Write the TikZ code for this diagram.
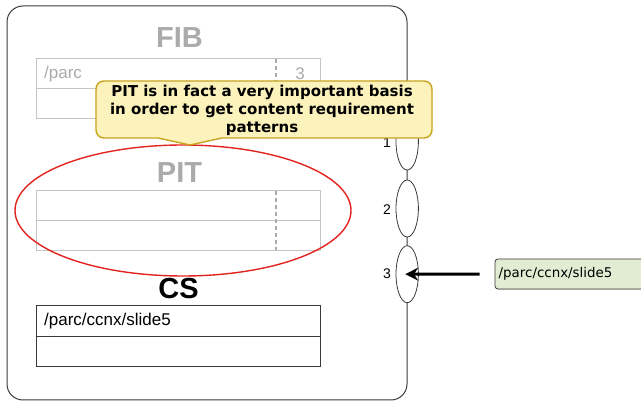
\documentclass[tikz,border=0pt]{standalone}
\usepackage{fontspec}
\setmainfont{Liberation Sans}
\newfontfamily\dejavu{DejaVu Sans}
\usetikzlibrary{shapes.geometric,arrows.meta,shadows}

\definecolor{frameline}{HTML}{3A3A3A}
\definecolor{fadeline}{HTML}{C4C4C4}
\definecolor{fadetext}{HTML}{ABABAB}
\definecolor{noteyellow}{HTML}{FCF3BC}
\definecolor{noteedge}{HTML}{C9A31C}
\definecolor{pktgreen}{HTML}{E0EDD2}
\definecolor{ringred}{HTML}{E3231E}

\tikzset{
  title/.style={inner sep=0pt, font=\fontsize{29}{33}\selectfont\bfseries},
  tablebox/.style={draw, line width=0.9pt, minimum width=284pt, inner sep=0pt},
  cell/.style={anchor=west, inner sep=0pt, font=\fontsize{17}{20}\selectfont},
  face/.style={ellipse, draw=frameline, fill=white, line width=0.8pt,
    minimum width=22.4pt, minimum height=57pt, inner sep=0pt},
  facelabel/.style={inner sep=0pt, font=\fontsize{14}{16}\selectfont},
  slot/.style={dashed, dash pattern=on 4pt off 3pt, line width=1.4pt, draw=fadetext},
}

\begin{document}
\begin{tikzpicture}[x=1pt, y=-1pt]
\useasboundingbox (0,0) rectangle (641,403);
\clip (0,0) rectangle (641,403);

% node frame
\draw[frameline, line width=1pt, rounded corners=16pt] (7,6) rectangle (407,400);

% FIB
\node[title, text=fadetext] (fibtitle) at (179.5,37.5) {FIB};
\node[tablebox, draw=fadeline, minimum height=60pt] (fib) at (178.8,88.3) {};
\draw[fadeline, line width=0.9pt] (fib.west) -- (fib.east);
\draw[slot] (276,59) -- (276,118);
\node[cell, text=fadetext] (fibname) at (44,74) {/parc};
\node[inner sep=0pt, text=fadetext, font=\fontsize{17}{20}\selectfont] (fibface) at (300,74) {3};

% PIT
\node[title, text=fadetext] (pittitle) at (179.5,172.7) {PIT};
\node[tablebox, draw=fadeline, minimum height=59.3pt] (pit) at (178.8,220.35) {};
\draw[fadeline, line width=0.9pt] (pit.west) -- (pit.east);
\draw[slot] (276,191) -- (276,250);

% CS
\node[title, text=black] (cstitle) at (178.5,289) {CS};
\node[tablebox, draw=frameline, minimum height=60.7pt] (cs) at (178,336.3) {};
\draw[frameline, line width=0.9pt] (cs.west) -- (cs.east);
\node[cell] (csname) at (44,321.5) {/parc/ccnx/slide5};

% highlight round the PIT
\node[ellipse, draw=ringred, line width=1.4pt, minimum width=336pt,
  minimum height=131pt, inner sep=0pt] (ring) at (183,210.5) {};

% faces
\node[face] (f1) at (407.2,141.5) {};
\node[face] (f2) at (407.2,208.5) {};
\node[face] (f3) at (407.2,274.2) {};
\node[facelabel] (l1) at (387,142.5) {1};
\node[facelabel] (l2) at (387,210) {2};
\node[facelabel] (l3) at (387,274) {3};

% incoming interest
\node[draw=frameline, fill=pktgreen, line width=0.8pt, rounded corners=3pt,
  minimum width=170pt, minimum height=30pt, inner sep=0pt,
  drop shadow={shadow xshift=1pt, shadow yshift=-1.2pt, opacity=0.25}]
  (interest) at (580,274) {};
\node[anchor=west, inner sep=0pt, font=\dejavu\fontsize{13.4}{16}\selectfont]
  (interesttext) at (498.5,274) {/parc/ccnx/slide5};
\draw[line width=3pt, -{Stealth[length=13pt, width=13pt]}, shorten <=15pt,
  shorten >=-2pt] (interest.west) -- (f3.center);

% note
\draw[noteedge, fill=noteyellow, line width=1.4pt]
  (158,138) [rounded corners=8pt] -- (96,138) -- (96,81) -- (432,81) -- (432,138)
  [sharp corners] -- (222,138) -- (190,145) -- cycle;
\node[align=center, inner sep=0pt,
  font=\dejavu\bfseries\fontsize{15}{18}\selectfont] (note) at (262,110)
  {PIT is in fact a very important basis\\in order to get content requirement\\patterns};
\end{tikzpicture}
\end{document}
